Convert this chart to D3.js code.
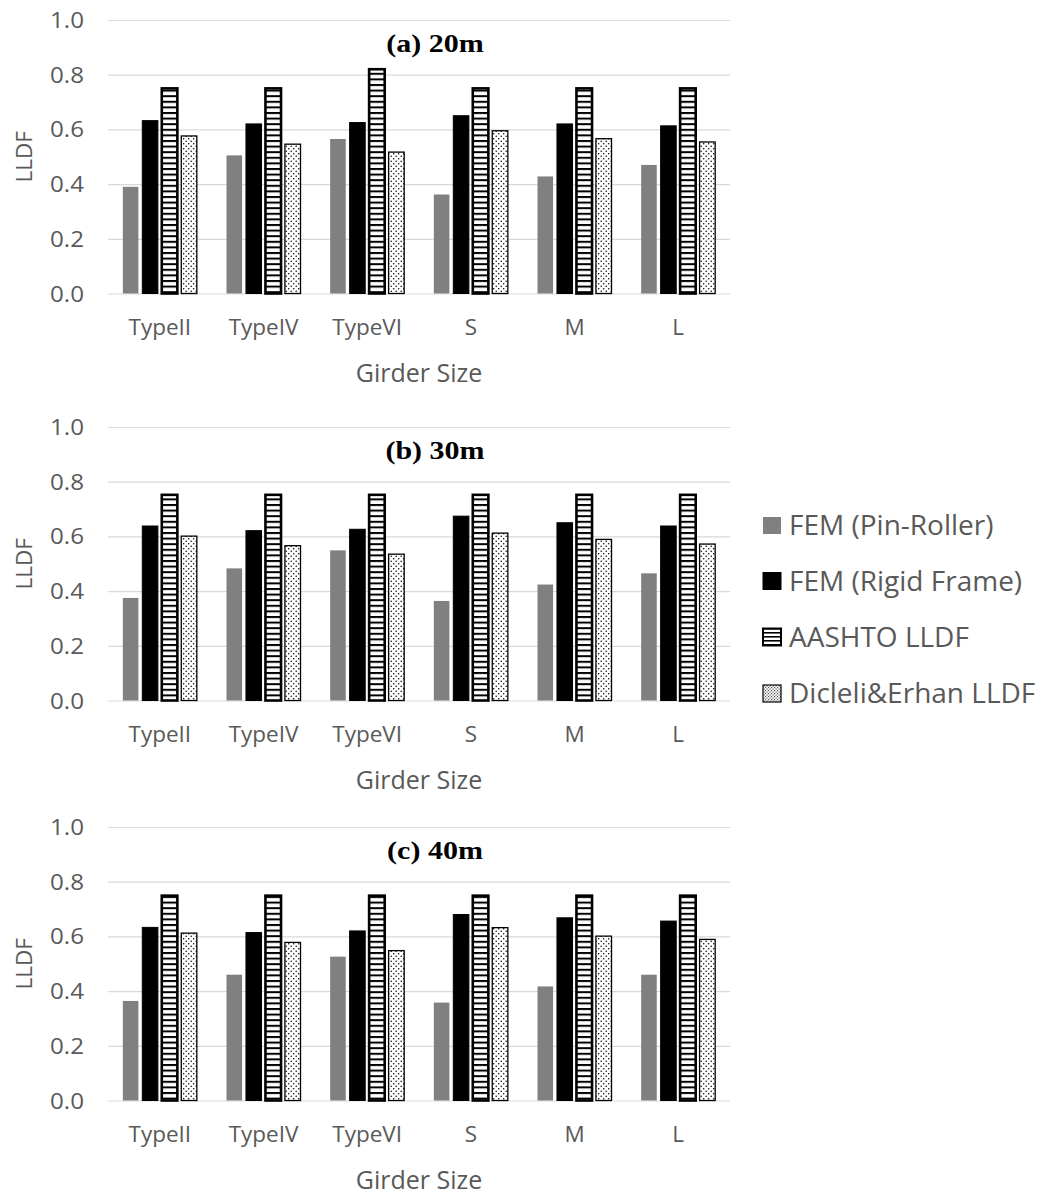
<!DOCTYPE html>
<html>
<head>
<meta charset="utf-8">
<script src="https://cdn.jsdelivr.net/npm/d3@7"></script>
<style>
  html, body { margin: 0; padding: 0; background: #fff; }
  svg { display: block; }
</style>
</head>
<body>
<svg id="chart" width="1055" height="1195"></svg>
<script>
// ---- data ----
const categories = ["TypeII", "TypeIV", "TypeVI", "S", "M", "L"];
const seriesNames = ["FEM (Pin-Roller)", "FEM (Rigid Frame)", "AASHTO LLDF", "Dicleli&Erhan LLDF"];
const panelTitles = ["(a) 20m", "(b) 30m", "(c) 40m"];
const yTicks = [0.0, 0.2, 0.4, 0.6, 0.8, 1.0];
const xTitle = "Girder Size";
const yTitle = "LLDF";

// (a) 20m
const pinRoller20 = [0.390, 0.505, 0.565, 0.362, 0.428, 0.470];
const rigidFrame20 = [0.632, 0.620, 0.625, 0.650, 0.620, 0.613];
const aashto20 = [0.750, 0.750, 0.820, 0.750, 0.750, 0.750];
const dicleli20 = [0.576, 0.546, 0.517, 0.595, 0.566, 0.554];
// (b) 30m
const pinRoller30 = [0.375, 0.483, 0.549, 0.364, 0.424, 0.465];
const rigidFrame30 = [0.638, 0.621, 0.626, 0.674, 0.650, 0.638];
const aashto30 = [0.752, 0.752, 0.752, 0.752, 0.752, 0.752];
const dicleli30 = [0.601, 0.566, 0.535, 0.612, 0.589, 0.572];
// (c) 40m
const pinRoller40 = [0.364, 0.460, 0.526, 0.358, 0.417, 0.460];
const rigidFrame40 = [0.633, 0.614, 0.620, 0.680, 0.668, 0.656];
const aashto40 = [0.749, 0.749, 0.749, 0.749, 0.749, 0.749];
const dicleli40 = [0.612, 0.578, 0.548, 0.632, 0.601, 0.589];

const panelData = [
  [pinRoller20, rigidFrame20, aashto20, dicleli20],
  [pinRoller30, rigidFrame30, aashto30, dicleli30],
  [pinRoller40, rigidFrame40, aashto40, dicleli40]
];

// ---- layout ----
const svg = d3.select("#chart");
const plotLeft = 108, plotRight = 730;
const panelTops = [20, 427, 827];
const plotH = 273.5;
const textColor = "#595959";
const sansFont = "'Open Sans', 'Noto Sans', sans-serif";

// patterns
const defs = svg.append("defs");
const stripe = defs.append("pattern").attr("id", "stripes")
  .attr("patternUnits", "userSpaceOnUse").attr("width", 8).attr("height", 5.6);
stripe.append("rect").attr("width", 8).attr("height", 5.6).attr("fill", "#fff");
stripe.append("rect").attr("width", 8).attr("height", 2).attr("fill", "#000");

const dots = defs.append("pattern").attr("id", "dots")
  .attr("patternUnits", "userSpaceOnUse").attr("width", 5).attr("height", 5);
dots.append("rect").attr("width", 5).attr("height", 5).attr("fill", "#fff");
dots.append("circle").attr("cx", 1.2).attr("cy", 1.2).attr("r", 0.75).attr("fill", "#000");
dots.append("circle").attr("cx", 3.7).attr("cy", 3.7).attr("r", 0.75).attr("fill", "#000");

const stripeLegend = defs.append("pattern").attr("id", "stripesL")
  .attr("patternUnits", "userSpaceOnUse").attr("width", 8).attr("height", 4);
stripeLegend.append("rect").attr("width", 8).attr("height", 4).attr("fill", "#fff");
stripeLegend.append("rect").attr("width", 8).attr("height", 1.6).attr("fill", "#000");

const dotsLegend = defs.append("pattern").attr("id", "dotsL")
  .attr("patternUnits", "userSpaceOnUse").attr("width", 3).attr("height", 3);
dotsLegend.append("rect").attr("width", 3).attr("height", 3).attr("fill", "#fff");
dotsLegend.append("rect").attr("x", 0).attr("y", 0).attr("width", 1.2).attr("height", 1.2).attr("fill", "#555");
dotsLegend.append("rect").attr("x", 1.5).attr("y", 1.5).attr("width", 1.2).attr("height", 1.2).attr("fill", "#555");

const seriesStyle = [
  { fill: "#808080", stroke: "none", sw: 0, legendFill: "#808080" },
  { fill: "#000000", stroke: "#000", sw: 1, legendFill: "#000" },
  { fill: "url(#stripes)", stroke: "#000", sw: 2.6, legendFill: "url(#stripesL)" },
  { fill: "url(#dots)", stroke: "#000", sw: 1.3, legendFill: "url(#dotsL)" }
];

const x0 = d3.scaleBand().domain(categories).range([plotLeft, plotRight])
  .paddingInner(0.286).paddingOuter(0.143);
const x1 = d3.scaleBand().domain(d3.range(seriesNames.length)).range([0, x0.bandwidth()])
  .paddingInner(0.2);

panelData.forEach((pdata, pi) => {
  const top = panelTops[pi];
  const y = d3.scaleLinear().domain([0, 1]).range([top + plotH, top]);
  const g = svg.append("g");

  // gridlines
  g.append("g")
    .attr("transform", `translate(${plotLeft},0)`)
    .call(d3.axisLeft(y).tickValues(yTicks).tickSize(-(plotRight - plotLeft)).tickFormat(""))
    .call(s => s.select(".domain").remove())
    .call(s => s.selectAll("line").attr("stroke", "#d9d9d9").attr("stroke-width", 1.2));

  // y tick labels
  g.append("g")
    .attr("transform", `translate(${plotLeft},0)`)
    .call(d3.axisLeft(y).tickValues(yTicks).tickSize(0).tickFormat(d3.format(".1f")))
    .call(s => s.select(".domain").remove())
    .call(s => s.selectAll("text")
      .attr("x", 0).attr("dy", "0.36em")
      .attr("transform", "translate(-24,0) scale(1.15,1)")
      .attr("fill", textColor).style("font-family", sansFont).style("font-size", "21px"));

  // x axis labels
  g.append("g")
    .attr("transform", `translate(0,${top + plotH})`)
    .call(d3.axisBottom(x0).tickSize(0).tickPadding(26))
    .call(s => s.select(".domain").remove())
    .call(s => s.selectAll("text")
      .attr("fill", textColor).style("font-family", sansFont).style("font-size", "22.5px"));

  // bars
  pdata.forEach((vals, si) => {
    const st = seriesStyle[si];
    g.append("g").selectAll("rect")
      .data(vals)
      .join("rect")
      .attr("x", (d, i) => x0(categories[i]) + x1(si))
      .attr("y", d => y(d))
      .attr("width", x1.bandwidth())
      .attr("height", d => y(0) - y(d))
      .attr("fill", st.fill)
      .attr("stroke", st.stroke)
      .attr("stroke-width", st.sw);
  });

  // title
  g.append("text")
    .attr("transform", `translate(435,${top + 32}) scale(1.2,1)`)
    .attr("text-anchor", "middle")
    .style("font-family", "'Liberation Serif', 'Times New Roman', serif")
    .style("font-weight", "bold")
    .style("font-size", "25px")
    .attr("fill", "#000")
    .text(panelTitles[pi]);

  // y title
  g.append("text")
    .attr("transform", `translate(32,${top + plotH / 2}) rotate(-90)`)
    .attr("text-anchor", "middle")
    .attr("fill", textColor)
    .style("font-family", sansFont).style("font-size", "22.5px")
    .text(yTitle);

  // x title
  g.append("text")
    .attr("x", (plotLeft + plotRight) / 2)
    .attr("y", top + plotH + 88)
    .attr("text-anchor", "middle")
    .attr("fill", textColor)
    .style("font-family", sansFont).style("font-size", "25px")
    .text(xTitle);
});

// legend
const legendYs = [535, 590.5, 646.5, 703];
const legend = svg.append("g");
seriesNames.forEach((name, si) => {
  const st = seriesStyle[si];
  const by = legendYs[si];
  legend.append("rect")
    .attr("x", 763).attr("y", by - 18).attr("width", 18).attr("height", 17)
    .attr("fill", st.legendFill)
    .attr("stroke", si === 0 ? "none" : "#000")
    .attr("stroke-width", si === 2 ? 2 : (si === 3 ? 1.2 : 1));
  legend.append("text")
    .attr("x", 789).attr("y", by)
    .attr("fill", textColor)
    .style("font-family", sansFont).style("font-size", "28px")
    .text(name);
});
</script>
</body>
</html>
